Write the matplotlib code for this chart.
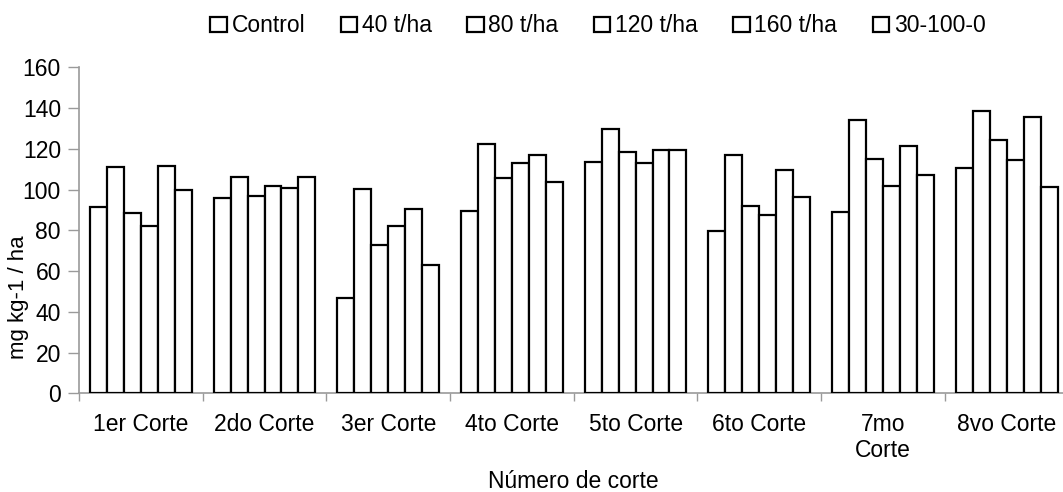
import numpy as np
import matplotlib.pyplot as plt
from matplotlib.patches import Patch

plt.rcParams['font.family'] = ['Liberation Sans', 'DejaVu Sans']

cortes = ['1er Corte', '2do Corte', '3er Corte', '4to Corte', '5to Corte',
          '6to Corte', '7mo\nCorte', '8vo Corte']
tratamientos = ['Control', '40 t/ha', '80 t/ha', '120 t/ha', '160 t/ha', '30-100-0']

control = [91.3, 96.0, 46.6, 89.7, 113.4, 79.8, 89.2, 110.8]
t40 = [111.2, 106.2, 100.5, 122.2, 129.9, 116.8, 134.3, 138.7]
t80 = [88.3, 97.0, 72.6, 105.7, 118.4, 91.9, 114.8, 124.5]
t120 = [82.1, 101.8, 82.3, 113.0, 113.0, 87.4, 101.6, 114.5]
t160 = [111.6, 100.6, 90.5, 117.0, 119.3, 109.6, 121.2, 135.8]
npk = [99.8, 106.0, 63.0, 103.6, 119.3, 96.2, 107.3, 101.3]

series = [control, t40, t80, t120, t160, npk]

fs = 16.5
gris = '#9a9a9a'

fig = plt.figure(figsize=(10.63, 4.92), dpi=100)
ax = fig.add_axes([0.0743, 0.2006, 0.9309, 0.6626])

x = np.arange(len(cortes))
w = 0.137
for i, vals in enumerate(series):
    ax.bar(x + (i - 2.5) * w, vals, width=w, color='white',
           edgecolor='black', linewidth=1.6, zorder=3)

ax.set_xlim(-0.5, 7.5)
ax.set_ylim(0, 160)
ax.set_yticks(np.arange(0, 161, 20))

ax.set_xticks(x)
ax.set_xticklabels(cortes, fontsize=fs)
ax.set_xticks(np.arange(-0.5, 8, 1), minor=True)
ax.tick_params(axis='x', which='major', length=0, pad=14)
ax.tick_params(axis='x', which='minor', length=6, width=1, color=gris,
               direction='out')
ax.tick_params(axis='y', labelsize=fs, length=8, width=1, color=gris,
               direction='out', pad=5)

for s in ['top', 'right']:
    ax.spines[s].set_visible(False)
for s in ['left', 'bottom']:
    ax.spines[s].set_color(gris)
    ax.spines[s].set_linewidth(1.2)

fig.text(19 / 1063, 1 - 297 / 492, 'mg kg-1 / ha', rotation=90,
         ha='center', va='center', fontsize=fs - 0.5)
fig.text(573.8 / 1063, 1 - 481 / 492, 'Número de corte',
         ha='center', va='center', fontsize=fs)

handles = [Patch(facecolor='white', edgecolor='black', linewidth=1.6)
           for _ in tratamientos]
fig.legend(handles, tratamientos, ncol=6, loc='center',
           bbox_to_anchor=(598 / 1063, 1 - 26 / 492), frameon=False,
           fontsize=fs, handlelength=0.72, handleheight=0.66,
           handletextpad=0.2, columnspacing=1.55, borderpad=0)

fig.savefig('out.png', dpi=100)
